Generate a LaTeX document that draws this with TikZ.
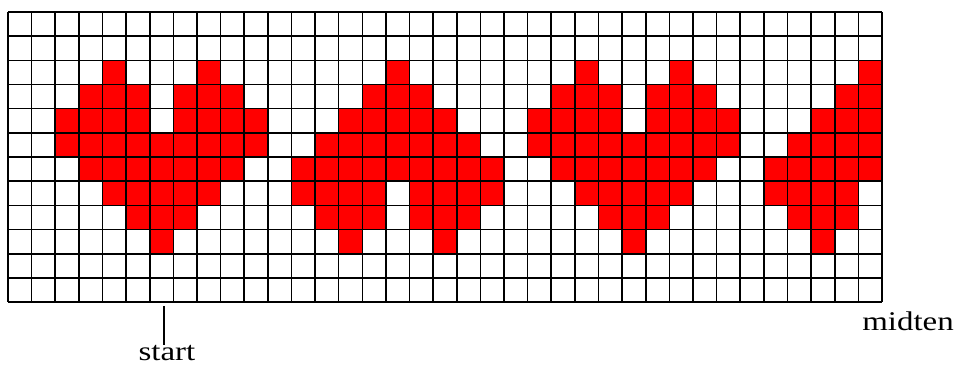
\documentclass[tikz,border=0pt]{standalone}
\usepackage{fontspec}
\setmainfont{Liberation Serif}
\begin{document}
\begin{tikzpicture}[x=1pt,y=-1pt,
  lbl/.style={font=\fontsize{27}{30}\selectfont, inner sep=0pt, xscale=1.22},
  gridline/.style={line width=1.6pt, black}]
\useasboundingbox (0,0) rectangle (956,365);
\def\cw{23.62}\def\ch{24.17}
\foreach \r/\a/\b in {
  2/4/4, 2/8/8, 3/3/5, 3/7/9, 4/2/5, 4/7/10, 5/2/10, 6/3/9, 7/4/8, 8/5/7, 9/6/6,
  2/24/24, 2/28/28, 3/23/25, 3/27/29, 4/22/25, 4/27/30, 5/22/30, 6/23/29, 7/24/28, 8/25/27, 9/26/26,
  2/16/16, 3/15/17, 4/14/18, 5/13/19, 6/12/20, 7/12/15, 7/17/20, 8/13/15, 8/17/19, 9/14/14, 9/18/18,
  2/36/36, 3/35/36, 4/34/36, 5/33/36, 6/32/36, 7/32/35, 8/33/35, 9/34/34}
  \fill[red] ({8+\a*\cw},{12+\r*\ch}) rectangle ({8+(\b+1)*\cw},{12+(\r+1)*\ch});
\foreach \i in {0,...,37}
  \draw[gridline] ({8+\i*\cw},12) -- ({8+\i*\cw},{12+12*\ch});
\foreach \j in {0,...,12}
  \draw[gridline] (8,{12+\j*\ch}) -- ({8+37*\cw},{12+\j*\ch});
\node[lbl, anchor=base] (start) at (167,360) {start};
\coordinate (tick) at (164,306);
\draw[line width=1.2pt] (tick) -- (tick |- start.north);
\node[lbl, anchor=base west] (midten) at (862,330) {midten};
\end{tikzpicture}
\end{document}
